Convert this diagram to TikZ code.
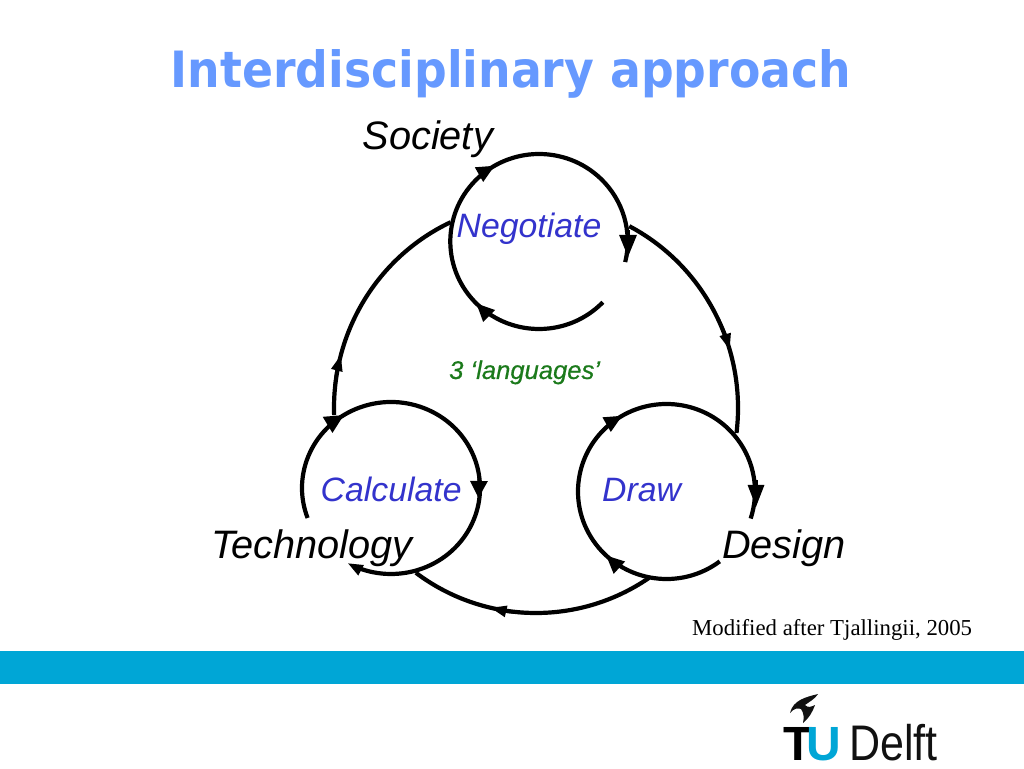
\documentclass[tikz,border=0pt]{standalone}
\usepackage{fontspec}
\setmainfont{Liberation Sans}
\newfontfamily\titlefont{DejaVu Sans Bold}[FakeStretch=0.915]
\newfontfamily\notefont{Liberation Serif}
\newfontfamily\greenfont{Liberation Sans Italic}[FakeBold=0.5]
\newfontfamily\delftfont{Liberation Sans}[FakeStretch=0.86]
\usetikzlibrary{arrows.meta,calc}
\definecolor{titleblue}{HTML}{6699FF}
\definecolor{wordblue}{HTML}{3333CC}
\definecolor{wordgreen}{HTML}{1B7A1B}
\definecolor{bandblue}{HTML}{00A6D6}
\definecolor{inkdark}{HTML}{111111}
\tikzset{
  x=1pt,y=1pt,
  ring/.style={line width=4.2pt,black},
  word/.style={font=\fontsize{33.8}{36}\selectfont\itshape,text=wordblue,anchor=base west,inner sep=0pt},
  placename/.style={font=\fontsize{39.7}{42}\selectfont\itshape,text=black,anchor=base west,inner sep=0pt},
  logo/.style={anchor=base west,inner sep=0pt},
}
\newcommand{\ringtip}[6]{%
  \draw[line width=3pt,-{Triangle[length=#5pt,width=#6pt]}]
    ($(#1)+({#4+16}:#2pt and #3pt)$) arc[start angle=#4+16,end angle=#4,x radius=#2pt,y radius=#3pt];}
\newcommand{\ringarc}[5]{%
  \draw[ring] ($(#1)+(#4:#2pt and #3pt)$) arc[start angle=#4,end angle=#5,x radius=#2pt,y radius=#3pt];}
\begin{document}
\begin{tikzpicture}
\useasboundingbox (0,0) rectangle (1024,768);
\fill[white] (0,0) rectangle (1024,768);
\fill[bandblue] (0,84) rectangle (1024,117);

\coordinate (negc) at (539,526.5);
\coordinate (calc) at (391,280);
\coordinate (drwc) at (666.5,276.5);
\coordinate (bigc) at (536,360);

% outer ring
\ringarc{bigc}{202}{205}{62.5}{-7}
\ringarc{bigc}{202}{205}{-56}{-126.5}
\ringarc{bigc}{202}{205}{182}{115}
\ringtip{bigc}{202}{205}{16.5}{16}{11}
\ringtip{bigc}{202}{205}{-103}{16}{11}
\ringtip{bigc}{202}{205}{165}{16}{11}

% Negotiate ring
\ringarc{negc}{88.7}{87.5}{-44}{-373.6}
\ringtip{negc}{88.7}{87.5}{120}{18}{16}
\ringtip{negc}{88.7}{87.5}{-135}{18}{16}
\coordinate (negvs) at (628,538);
\coordinate (negve) at (628,511);
\draw[line width=3pt,-{Triangle[length=22pt,width=17pt]}] (negvs) -- (negve);

% Calculate ring
\ringarc{calc}{89}{86}{200.4}{-112}
\ringtip{calc}{89}{86}{122}{19}{18}
\ringtip{calc}{89}{86}{-119}{15}{11}
\coordinate (calvs) at (479,292);
\coordinate (calve) at (478.5,270);
\draw[line width=3pt,-{Triangle[length=17pt,width=17pt]}] (calvs) -- (calve);

% Draw ring
\ringarc{drwc}{88.5}{87.5}{-53}{-378}
\ringtip{drwc}{88.5}{87.5}{120}{18}{16}
\ringtip{drwc}{88.5}{87.5}{-133}{18}{16}
\coordinate (drwvs) at (756,288);
\coordinate (drwve) at (756,261);
\draw[line width=3pt,-{Triangle[length=22pt,width=16pt]}] (drwvs) -- (drwve);

% texts
\node[anchor=base,inner sep=0pt,text=titleblue,font=\fontsize{50}{52}\selectfont\titlefont] (title) at (511,680.5) {Interdisciplinary approach};
\node[placename] (society) at (362.5,618) {Society};
\node[placename] (technology) at (211,209) {Technology};
\node[placename] (design) at (722,209) {Design};
\node[word] (negotiate) at (456.5,530) {Negotiate};
\node[word] (calculate) at (320.5,266) {Calculate};
\node[word] (draw) at (602,266) {Draw};
\node[anchor=base west,inner sep=0pt,text=wordgreen,font=\fontsize{25.6}{28}\selectfont\greenfont] (languages) at (449,389) {3 ‘languages’};
\node[anchor=base west,inner sep=0pt,text=black,font=\fontsize{22.8}{26}\selectfont\notefont] (note) at (692,132) {Modified after Tjallingii, 2005};

% logo
\fill[inkdark] (818,74) .. controls (806,71) and (793,68) .. (790,55)
  .. controls (794,60) and (798,60) .. (801,59)
  .. controls (804,55) and (804,50) .. (803,45)
  .. controls (809,50) and (812,55) .. (815,63)
  .. controls (811,61) and (808,60) .. (805,63)
  .. controls (809,66) and (815,69) .. (818,74) -- cycle;
\node[logo,font=\fontsize{48}{50}\selectfont\bfseries,text=black] (logot) at (783,8) {T};
\node[logo,font=\fontsize{48}{50}\selectfont\bfseries,text=bandblue] (logou) at (806,8) {U};
\node[logo,font=\fontsize{50}{52}\selectfont\delftfont,text=inkdark] (logod) at (849,8) {Delft};
\end{tikzpicture}
\end{document}
